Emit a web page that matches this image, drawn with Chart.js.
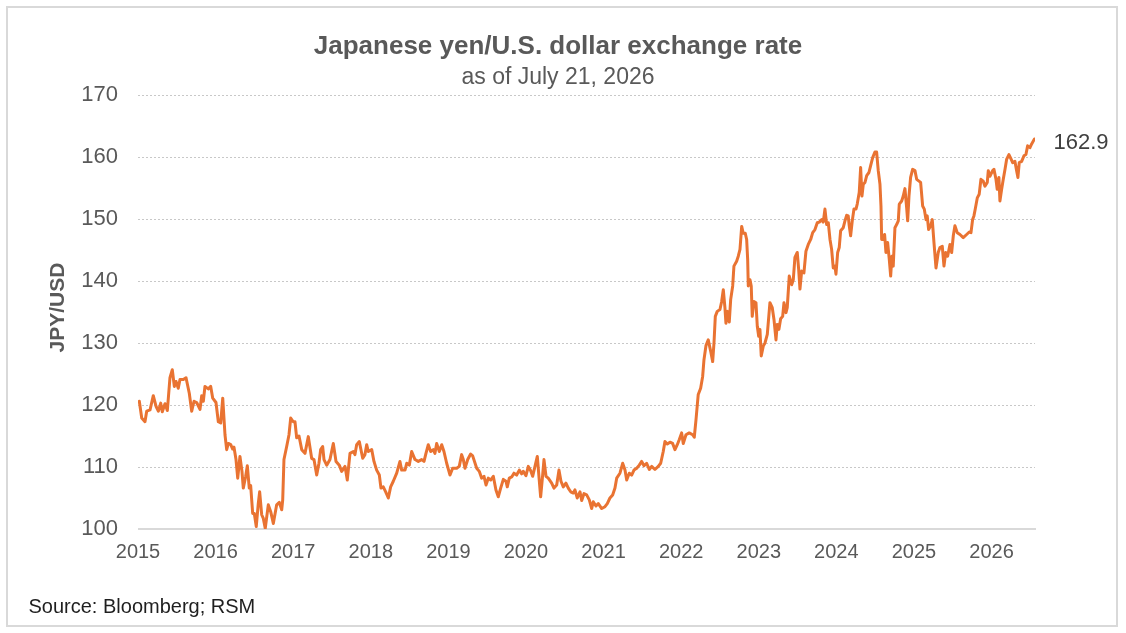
<!DOCTYPE html>
<html><head><meta charset="utf-8">
<script src="https://cdn.jsdelivr.net/npm/chart.js@4.4.1/dist/chart.umd.min.js"></script>
<style>html,body{margin:0;padding:0;background:#fff;}#wrap{width:1126px;height:633px;position:relative;}</style>
</head><body><div id="wrap"><canvas id="c"></canvas></div>
<script>
// Decimal year of each observation
const years = [
2015.017,2015.048,2015.090,2015.112,2015.155,2015.197,2015.232,2015.262,2015.293,2015.313,2015.348,2015.378,2015.412,2015.442,2015.468,2015.490,2015.519,2015.541,2015.584,2015.619,2015.661,2015.692,2015.722,2015.756,2015.799,2015.821,2015.842,2015.863,2015.906,2015.937,2015.963,
2016.005,2016.035,2016.066,2016.092,2016.121,2016.143,2016.164,2016.195,2016.220,2016.237,2016.263,2016.285,2016.314,2016.340,2016.357,2016.388,2016.409,2016.434,2016.452,2016.478,2016.499,2016.524,2016.550,2016.568,2016.594,2016.615,2016.640,2016.679,2016.710,2016.744,2016.787,2016.821,2016.852,2016.865,2016.881,2016.916,2016.946,2016.968,
2017.001,2017.023,2017.045,2017.075,2017.110,2017.152,2017.195,2017.238,2017.268,2017.303,2017.332,2017.354,2017.380,2017.397,2017.432,2017.474,2017.517,2017.552,2017.594,2017.625,2017.668,2017.697,2017.732,2017.775,2017.796,2017.818,2017.852,2017.896,2017.925,2017.947,2017.968,
2018.012,2018.041,2018.076,2018.110,2018.131,2018.161,2018.192,2018.226,2018.256,2018.290,2018.334,2018.376,2018.398,2018.441,2018.463,2018.496,2018.527,2018.570,2018.612,2018.656,2018.686,2018.711,2018.741,2018.772,2018.805,2018.827,2018.849,2018.883,2018.914,2018.943,2018.978,
2019.021,2019.055,2019.107,2019.140,2019.171,2019.192,2019.214,2019.249,2019.287,2019.313,2019.365,2019.398,2019.429,2019.459,2019.485,2019.514,2019.545,2019.579,2019.613,2019.643,2019.674,2019.708,2019.742,2019.759,2019.785,2019.816,2019.845,2019.880,2019.914,2019.945,2019.965,
2020.000,2020.030,2020.061,2020.086,2020.116,2020.146,2020.171,2020.189,2020.215,2020.232,2020.258,2020.287,2020.331,2020.361,2020.396,2020.425,2020.451,2020.481,2020.515,2020.545,2020.576,2020.610,2020.631,2020.661,2020.696,2020.718,2020.747,2020.782,2020.816,2020.847,2020.867,2020.902,2020.932,2020.976,
2021.018,2021.048,2021.082,2021.117,2021.147,2021.169,2021.211,2021.246,2021.276,2021.298,2021.331,2021.362,2021.392,2021.427,2021.460,2021.491,2021.521,2021.555,2021.589,2021.620,2021.662,2021.705,2021.736,2021.769,2021.791,2021.821,2021.856,2021.890,2021.920,2021.950,2021.975,
2022.006,2022.027,2022.062,2022.104,2022.148,2022.169,2022.191,2022.220,2022.251,2022.277,2022.294,2022.320,2022.349,2022.380,2022.406,2022.423,2022.440,2022.465,2022.500,2022.522,2022.543,2022.564,2022.577,2022.599,2022.620,2022.638,2022.664,2022.680,2022.715,2022.736,2022.758,2022.780,2022.800,2022.826,2022.844,2022.857,2022.865,2022.887,2022.903,2022.916,2022.938,2022.964,2022.981,2022.999,
2023.015,2023.032,2023.058,2023.080,2023.110,2023.144,2023.174,2023.196,2023.222,2023.238,2023.260,2023.282,2023.308,2023.325,2023.351,2023.367,2023.393,2023.424,2023.445,2023.466,2023.496,2023.514,2023.531,2023.553,2023.582,2023.608,2023.638,2023.669,2023.695,2023.724,2023.754,2023.780,2023.811,2023.831,2023.853,2023.875,2023.896,2023.918,2023.939,2023.960,2023.982,2023.995,
2024.017,2024.037,2024.055,2024.089,2024.111,2024.133,2024.153,2024.166,2024.184,2024.205,2024.227,2024.253,2024.269,2024.295,2024.313,2024.330,2024.347,2024.369,2024.391,2024.420,2024.442,2024.468,2024.497,2024.519,2024.540,2024.562,2024.575,2024.584,2024.604,2024.622,2024.639,2024.661,2024.682,2024.700,2024.716,2024.733,2024.755,2024.777,2024.798,2024.811,2024.842,2024.862,2024.884,2024.906,2024.919,2024.936,2024.957,2024.983,
2025.013,2025.035,2025.086,2025.112,2025.133,2025.155,2025.171,2025.189,2025.215,2025.236,2025.258,2025.284,2025.313,2025.335,2025.365,2025.387,2025.409,2025.434,2025.464,2025.486,2025.507,2025.528,2025.558,2025.593,2025.635,2025.679,2025.713,2025.735,2025.756,2025.773,2025.790,2025.816,2025.841,2025.863,2025.893,2025.915,2025.945,2025.958,2025.979,
2026.014,2026.031,2026.057,2026.073,2026.095,2026.108,2026.130,2026.151,2026.173,2026.194,2026.224,2026.246,2026.272,2026.301,2026.323,2026.340,2026.357,2026.388,2026.418,2026.443,2026.465,2026.495,2026.517,2026.553
];
// JPY per USD
const rates = [
120.6,117.9,117.3,119.0,119.2,121.5,119.8,119.0,120.3,118.9,120.2,119.1,124.4,125.7,123.0,123.8,122.7,124.1,124.1,124.4,121.9,119.0,120.6,120.4,119.3,121.5,120.6,123.0,122.6,123.0,121.1,
120.4,117.3,117.1,121.1,115.2,112.8,113.8,113.6,112.9,113.2,111.2,108.2,111.7,109.3,106.6,108.5,110.2,106.6,107.0,102.5,102.5,100.4,104.1,106.0,102.3,101.7,100.1,103.9,102.8,100.9,103.9,104.3,103.1,104.7,111.2,113.3,115.2,117.9,
117.3,117.3,114.7,115.0,112.8,112.2,114.9,111.4,111.2,108.7,110.6,112.8,113.3,111.2,110.3,111.2,113.8,110.9,110.3,109.3,110.1,107.9,112.2,112.5,112.0,113.6,114.1,111.4,112.0,113.6,112.5,
112.8,110.9,109.5,108.7,106.6,106.8,106.0,105.0,106.8,107.7,109.0,110.9,109.5,109.5,110.6,110.3,112.5,111.2,110.9,111.2,110.9,112.2,113.6,112.5,112.8,112.2,113.8,112.5,113.6,112.5,110.6,
108.7,109.8,109.8,110.1,112.0,111.2,109.8,111.2,112.1,111.8,109.8,109.3,108.2,108.5,107.1,108.2,107.9,108.5,106.3,105.2,106.6,108.0,107.7,106.8,108.2,108.4,109.0,108.7,109.5,108.9,109.3,
108.6,110.1,109.4,108.5,110.1,111.7,107.9,105.2,108.7,111.2,108.5,108.2,107.4,106.6,107.1,109.5,107.7,106.8,107.4,106.6,106.0,105.8,106.3,105.0,106.0,104.6,105.7,105.5,104.7,103.3,104.4,103.7,104.1,103.3,
103.6,104.1,105.0,105.5,106.6,108.2,109.0,110.6,109.5,107.9,109.0,108.7,109.5,109.8,110.3,110.9,110.2,110.6,109.6,110.1,109.6,110.1,110.6,112.5,114.1,113.7,114.0,113.8,112.8,113.6,114.4,
115.5,113.8,115.2,115.5,115.2,114.8,117.6,121.7,122.7,124.6,127.3,129.6,130.5,128.7,127.0,130.0,134.3,135.1,135.4,136.7,138.6,135.7,133.2,135.1,133.4,137.0,139.2,142.4,143.2,144.0,145.1,148.8,147.7,147.7,146.7,143.5,139.2,140.2,139.2,134.3,136.7,136.5,132.7,131.1,
132.2,127.9,129.5,130.0,131.4,136.5,135.7,133.8,130.5,133.0,132.2,133.9,134.3,136.5,134.9,135.7,140.8,139.4,140.2,143.8,144.6,141.9,138.7,141.6,141.3,144.8,145.9,146.7,147.8,148.3,149.4,149.5,149.9,149.5,151.6,149.1,149.4,146.7,145.1,142.1,142.4,141.1,
144.6,145.4,148.1,148.6,149.7,150.6,150.5,148.9,147.3,149.7,151.6,151.6,152.4,154.3,158.3,153.7,155.6,155.9,157.0,157.5,158.6,159.9,160.8,160.8,157.8,155.6,152.1,146.7,146.7,147.5,144.6,146.2,143.5,140.8,144.0,142.4,148.6,149.1,149.7,152.4,152.9,153.7,154.9,151.8,149.7,153.7,156.7,158.0,
157.8,156.4,155.9,152.1,151.6,149.9,150.5,148.3,148.9,149.9,146.2,142.1,144.6,145.4,145.6,142.4,144.6,144.0,145.9,144.6,147.3,148.9,147.8,147.5,147.0,147.5,147.9,147.8,149.9,150.5,151.6,153.4,154.0,156.4,156.1,155.3,155.9,157.8,156.9,
157.8,158.0,156.4,154.8,156.7,152.9,154.8,156.4,158.0,159.6,160.4,159.8,159.1,159.3,157.8,156.7,159.1,159.3,160.2,160.4,161.8,161.5,162.1,162.9
];
const yTickValues = [100, 110, 120, 130, 140, 150, 160, 170];
const xTickValues = [2015, 2016, 2017, 2018, 2019, 2020, 2021, 2022, 2023, 2024, 2025, 2026];
const xMin = 2015, xMax = 2026.56;
const titleText = 'Japanese yen/U.S. dollar exchange rate';
const subtitleText = 'as of July 21, 2026';
const yAxisTitle = 'JPY/USD';
const sourceText = 'Source: Bloomberg; RSM';
const lastValueLabel = '162.9';

const FONT = "'Liberation Sans', Arial, Helvetica, sans-serif";
const GREY = '#595959';
const ORANGE = '#E97332';

const points = years.map((x, i) => ({ x: x, y: rates[i] }));

const deco = {
  id: 'deco',
  beforeDraw(chart) {
    const ctx = chart.ctx;
    ctx.save();
    ctx.fillStyle = '#ffffff';
    ctx.fillRect(0, 0, chart.width, chart.height);
    ctx.strokeStyle = '#d9d9d9';
    ctx.lineWidth = 2;
    ctx.strokeRect(7, 7, 1110, 619);
    ctx.restore();
  },
  beforeDatasetsDraw(chart) {
    const ctx = chart.ctx;
    const ys = chart.scales.y;
    const a = chart.chartArea;
    ctx.save();
    yTickValues.forEach(v => {
      const y = Math.round(ys.getPixelForValue(v));
      ctx.beginPath();
      if (v === yTickValues[0]) {
        ctx.setLineDash([]);
        ctx.strokeStyle = '#d9d9d9';
        ctx.lineWidth = 2;
        ctx.moveTo(a.left, y);
        ctx.lineTo(a.right + 1, y);
      } else {
        ctx.setLineDash([2, 2]);
        ctx.strokeStyle = '#c8c8c8';
        ctx.lineWidth = 1;
        ctx.moveTo(a.left, y + 0.5);
        ctx.lineTo(a.right, y + 0.5);
      }
      ctx.stroke();
    });
    ctx.restore();
  },
  afterDraw(chart) {
    const ctx = chart.ctx;
    ctx.save();
    ctx.fillStyle = GREY;
    ctx.textAlign = 'center';
    ctx.textBaseline = 'alphabetic';
    ctx.font = 'bold 26px ' + FONT;
    ctx.fillText(titleText, 558, 53.5);
    ctx.font = '23px ' + FONT;
    ctx.fillText(subtitleText, 558, 84);
    // y axis title
    ctx.save();
    ctx.translate(63.5, 307.5);
    ctx.rotate(-Math.PI / 2);
    ctx.font = 'bold 21px ' + FONT;
    ctx.fillText(yAxisTitle, 0, 0);
    ctx.restore();
    // source
    ctx.textAlign = 'left';
    ctx.fillStyle = '#1f1f1f';
    ctx.font = '20px ' + FONT;
    ctx.fillText(sourceText, 28.5, 612.5);
    // last value label
    const meta = chart.getDatasetMeta(0);
    const last = meta.data[meta.data.length - 1];
    ctx.fillStyle = '#404040';
    ctx.font = '22px ' + FONT;
    ctx.fillText(lastValueLabel, last.x + 19, last.y + 9.5);
    ctx.restore();
  }
};

new Chart(document.getElementById('c'), {
  type: 'line',
  data: {
    datasets: [{
      data: points,
      borderColor: ORANGE,
      borderWidth: 3,
      pointRadius: 0,
      pointHoverRadius: 0,
      tension: 0,
      fill: false,
      borderJoinStyle: 'round',
      borderCapStyle: 'round'
    }]
  },
  options: {
    responsive: true,
    maintainAspectRatio: false,
    animation: false,
    devicePixelRatio: 1,
    events: [],
    layout: { padding: { top: 95, right: 91, bottom: 0, left: 0 } },
    plugins: { legend: { display: false }, tooltip: { enabled: false }, title: { display: false } },
    scales: {
      x: {
        type: 'linear',
        min: xMin,
        max: xMax,
        grid: { display: false, drawTicks: false },
        border: { display: false },
        afterBuildTicks(scale) { scale.ticks = xTickValues.map(v => ({ value: v })); },
        afterFit(scale) { scale.height = 104; },
        ticks: {
          autoSkip: false,
          maxRotation: 0,
          padding: 11,
          color: GREY,
          font: { family: FONT, size: 20 },
          callback: v => String(v)
        }
      },
      y: {
        min: 100,
        max: 170,
        grid: { display: false, drawTicks: false },
        border: { display: false },
        afterBuildTicks(scale) { scale.ticks = yTickValues.map(v => ({ value: v })); },
        afterFit(scale) { scale.width = 138; },
        ticks: {
          padding: 20,
          color: GREY,
          font: { family: FONT, size: 22 },
          callback: v => String(v)
        }
      }
    }
  },
  plugins: [deco]
});
</script>
</body></html>
